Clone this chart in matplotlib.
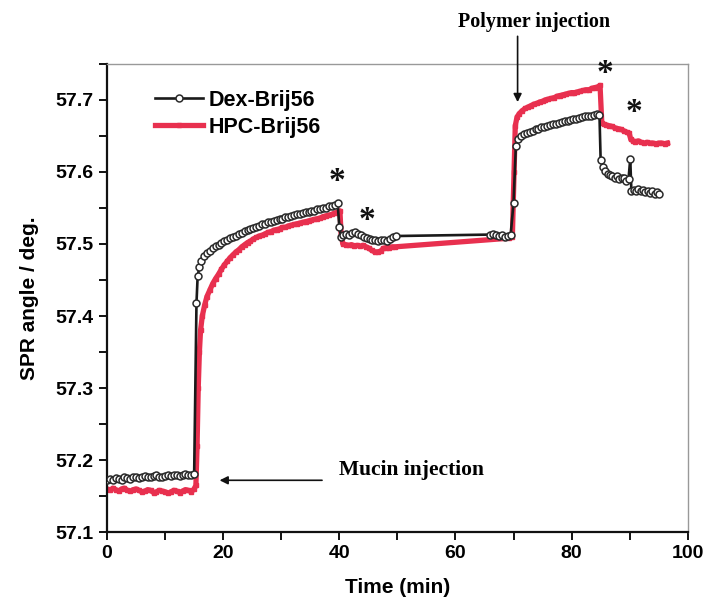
import matplotlib
matplotlib.use("Agg")
import matplotlib.pyplot as plt
from matplotlib.ticker import MultipleLocator

# ---------------- data ----------------
base_t = [0, 0.5, 1, 1.5, 2, 2.5, 3, 3.5, 4, 4.5, 5, 5.5, 6, 6.5, 7, 7.5, 8, 8.5, 9, 9.5,
          10, 10.5, 11, 11.5, 12, 12.5, 13, 13.5, 14, 14.5, 15]

dex_base = [57.172, 57.174, 57.173, 57.175, 57.174, 57.173, 57.176, 57.175, 57.174, 57.176,
            57.177, 57.175, 57.176, 57.178, 57.177, 57.176, 57.178, 57.179, 57.177, 57.176,
            57.178, 57.179, 57.178, 57.180, 57.179, 57.178, 57.180, 57.181, 57.179, 57.180, 57.181]

hpc_base = [57.160, 57.158, 57.161, 57.159, 57.157, 57.160, 57.161, 57.158, 57.157, 57.159,
            57.160, 57.158, 57.156, 57.157, 57.159, 57.158, 57.155, 57.156, 57.158, 57.157,
            57.156, 57.154, 57.156, 57.158, 57.157, 57.155, 57.157, 57.159, 57.158, 57.156, 57.160]

dex_t2 = [15.4, 15.6, 15.9, 16.2, 16.7, 17.2, 17.7, 18.2, 18.7, 19.2, 19.7, 20.2, 20.7, 21.2,
          21.7, 22.2, 22.7, 23.2, 23.7, 24.2, 24.7, 25.2, 25.7, 26.2, 26.7, 27.2, 27.7, 28.2,
          28.7, 29.2, 29.7, 30.2, 30.7, 31.2, 31.7, 32.2, 32.7, 33.2, 33.7, 34.2, 34.7, 35.2,
          35.7, 36.2, 36.7, 37.2, 37.7, 38.2, 38.7, 39.2, 39.7,
          40.0, 40.3, 40.7, 41.2, 41.7, 42.2, 42.7, 43.2, 43.7, 44.2, 44.7, 45.2, 45.7, 46.2,
          46.7, 47.2, 47.7, 48.2, 48.7, 49.2, 49.8,
          66.0, 66.5, 67.0, 67.5, 68.0, 68.5, 69.0, 69.5,
          70.0, 70.4, 70.8, 71.3, 71.8, 72.3, 72.8, 73.3, 73.8, 74.3, 74.8, 75.3, 75.8, 76.3,
          76.8, 77.3, 77.8, 78.3, 78.8, 79.3, 79.8, 80.3, 80.8, 81.3, 81.8, 82.3, 82.8, 83.3,
          83.8, 84.3, 84.8,
          85.0, 85.4, 85.8, 86.2, 86.6, 87.0, 87.4, 87.8, 88.2, 88.6, 89.0, 89.4, 89.8,
          90.1, 90.3, 90.7, 91.1, 91.5, 91.9, 92.3, 92.7, 93.1, 93.5, 93.9, 94.3, 94.7, 95.1]

dex_v2 = [57.418, 57.455, 57.468, 57.476, 57.483, 57.488, 57.490, 57.494, 57.497, 57.499,
          57.502, 57.504, 57.506, 57.508, 57.510, 57.511, 57.514, 57.515, 57.518, 57.519,
          57.521, 57.522, 57.524, 57.525, 57.527, 57.528, 57.530, 57.530, 57.532, 57.533,
          57.535, 57.535, 57.537, 57.538, 57.539, 57.540, 57.541, 57.542, 57.543, 57.544,
          57.545, 57.546, 57.546, 57.548, 57.549, 57.550, 57.550, 57.552, 57.553, 57.554, 57.557,
          57.524, 57.509, 57.513, 57.514, 57.513, 57.515, 57.516, 57.514, 57.512, 57.510,
          57.508, 57.507, 57.506, 57.505, 57.504, 57.506, 57.505, 57.504, 57.507, 57.509, 57.511,
          57.513, 57.514, 57.512, 57.511, 57.512, 57.510, 57.511, 57.512,
          57.557, 57.636, 57.646, 57.650, 57.652, 57.654, 57.656, 57.657, 57.659, 57.660,
          57.662, 57.662, 57.664, 57.665, 57.666, 57.667, 57.668, 57.669, 57.670, 57.671,
          57.672, 57.673, 57.674, 57.675, 57.676, 57.677, 57.677, 57.678, 57.679, 57.680, 57.679,
          57.617, 57.607, 57.601, 57.597, 57.595, 57.594, 57.592, 57.594, 57.590, 57.592,
          57.591, 57.588, 57.590,
          57.618, 57.573, 57.575, 57.573, 57.576, 57.574, 57.575, 57.572, 57.574, 57.571,
          57.573, 57.570, 57.572, 57.570]

hpc_t2 = [15.3, 15.5, 15.7, 15.9, 16.1, 16.4, 16.8, 17.2, 17.7, 18.2, 18.7, 19.2, 19.7, 20.2,
          20.7, 21.2, 21.7, 22.2, 22.7, 23.2, 23.7, 24.2, 24.7, 25.2, 25.7, 26.2, 26.7, 27.2,
          27.7, 28.2, 28.7, 29.2, 29.7, 30.2, 30.7, 31.2, 31.7, 32.2, 32.7, 33.2, 33.7, 34.2,
          34.7, 35.2, 35.7, 36.2, 36.7, 37.2, 37.7, 38.2, 38.7, 39.2, 39.7, 40.1,
          40.3, 40.6, 41.1, 41.6, 42.1, 42.6, 43.1, 43.6, 44.1, 44.6, 45.1, 45.6, 46.1, 46.6,
          47.1, 47.6, 48.1, 48.6, 49.1, 49.6,
          69.3, 69.8, 70.1, 70.3, 70.6, 71.0, 71.5, 72.0, 72.5, 73.0, 73.5, 74.0, 74.5, 75.0,
          75.5, 76.0, 76.5, 77.0, 77.5, 78.0, 78.5, 79.0, 79.5, 80.0, 80.5, 81.0, 81.5, 82.0,
          82.5, 83.0, 83.5, 84.0, 84.5, 84.9,
          85.2, 85.6, 86.0, 86.5, 87.0, 87.5, 88.0, 88.5, 89.0, 89.5, 89.9,
          90.2, 90.6, 91.0, 91.5, 92.0, 92.5, 93.0, 93.5, 94.0, 94.5, 95.0, 95.5, 96.0, 96.5]

hpc_v2 = [57.165, 57.220, 57.300, 57.350, 57.380, 57.400, 57.415, 57.427, 57.436, 57.445,
          57.452, 57.458, 57.465, 57.471, 57.476, 57.481, 57.485, 57.489, 57.492, 57.496,
          57.499, 57.502, 57.504, 57.507, 57.509, 57.511, 57.512, 57.514, 57.516, 57.517,
          57.519, 57.520, 57.521, 57.523, 57.523, 57.525, 57.526, 57.527, 57.528, 57.529,
          57.530, 57.531, 57.532, 57.533, 57.534, 57.535, 57.536, 57.538, 57.539, 57.540,
          57.541, 57.543, 57.544, 57.546,
          57.515, 57.500, 57.499, 57.498, 57.499, 57.497, 57.498, 57.497, 57.498, 57.496,
          57.494, 57.491, 57.489, 57.489, 57.490, 57.494, 57.495, 57.495, 57.496, 57.496,
          57.508, 57.510, 57.600, 57.664, 57.676, 57.681, 57.685, 57.688, 57.690, 57.692,
          57.694, 57.695, 57.697, 57.698, 57.700, 57.701, 57.702, 57.703, 57.705, 57.706,
          57.707, 57.708, 57.709, 57.710, 57.710, 57.711, 57.712, 57.713, 57.714, 57.714,
          57.716, 57.717, 57.718, 57.720,
          57.668, 57.666, 57.665, 57.664, 57.663, 57.661, 57.660, 57.659, 57.657, 57.655, 57.654,
          57.645, 57.643, 57.642, 57.643, 57.641, 57.640, 57.641, 57.640, 57.640, 57.639,
          57.640, 57.640, 57.639, 57.640]

dex_t = base_t + dex_t2
dex_v = dex_base + dex_v2
hpc_t = base_t + hpc_t2
hpc_v = hpc_base + hpc_v2

series_labels = ["Dex-Brij56", "HPC-Brij56"]
asterisk_pos = [(39.6, 57.586), (44.8, 57.533), (85.7, 57.737), (90.7, 57.682)]

# ---------------- figure ----------------
RED = "#e8304f"
fig = plt.figure(figsize=(7.09, 6.02), dpi=100)
ax = fig.add_axes([0.151, 0.116, 0.819, 0.778])

ax.plot(hpc_t, hpc_v, color=RED, lw=3.8, marker="s", ms=3.5, mfc=RED, mec=RED,
        label=series_labels[1], zorder=2)
ax.plot(dex_t, dex_v, color="#1a1a1a", lw=1.9, marker="o", ms=5.0, mfc="white",
        mec="#2a2a2a", mew=1.1, label=series_labels[0], zorder=3)

ax.set_xlim(0, 100)
ax.set_ylim(57.1, 57.75)
ax.xaxis.set_major_locator(MultipleLocator(20))
ax.xaxis.set_minor_locator(MultipleLocator(10))
ax.yaxis.set_major_locator(MultipleLocator(0.1))
ax.yaxis.set_minor_locator(MultipleLocator(0.05))
ax.yaxis.set_major_formatter(matplotlib.ticker.FormatStrFormatter("%.1f"))

for s in ["left", "bottom"]:
    ax.spines[s].set_linewidth(1.6)
    ax.spines[s].set_color("#111111")
for s in ["top", "right"]:
    ax.spines[s].set_linewidth(1.0)
    ax.spines[s].set_color("#999999")

ax.tick_params(which="both", direction="out", width=1.4, color="#111111")
ax.tick_params(which="major", length=6)
ax.tick_params(which="minor", length=6)
ax.tick_params(top=False, right=False)
for lab in ax.get_xticklabels() + ax.get_yticklabels():
    lab.set_fontweight("bold")
    lab.set_fontsize(14)
    lab.set_family("Liberation Sans")

ax.set_xlabel("Time (min)", fontsize=15, fontweight="bold", family="Liberation Sans", labelpad=11)
ax.set_ylabel("SPR angle / deg.", fontsize=15, fontweight="bold", family="Liberation Sans", labelpad=12)

leg = ax.legend(handles=ax.get_lines()[::-1], loc="upper left", bbox_to_anchor=(0.083, 0.945),
                frameon=False, handlelength=2.2, numpoints=1, borderaxespad=0, borderpad=0,
                prop={"family": "Liberation Sans", "weight": "bold", "size": 15.5},
                labelspacing=0.3, handletextpad=0.3)

for (x, y) in asterisk_pos:
    ax.text(x, y, "*", fontsize=24, fontweight="bold", family="Liberation Serif",
            ha="center", va="center", color="#111111")

# annotations
ax.annotate("", xy=(70.7, 57.693), xytext=(70.7, 57.792),
            arrowprops=dict(arrowstyle="-|>", color="#111111", lw=1.2, mutation_scale=12),
            annotation_clip=False)
ax.text(73.5, 57.808, "Polymer injection", fontsize=14.5, fontweight="bold",
        family="Liberation Serif", ha="center", va="center", clip_on=False)

ax.annotate("", xy=(18.9, 57.172), xytext=(37.5, 57.172),
            arrowprops=dict(arrowstyle="-|>", color="#111111", lw=1.2, mutation_scale=12))
ax.text(40.0, 57.186, "Mucin injection", fontsize=15.5, fontweight="bold",
        family="Liberation Serif", ha="left", va="center")

fig.savefig("out.png", dpi=100)
